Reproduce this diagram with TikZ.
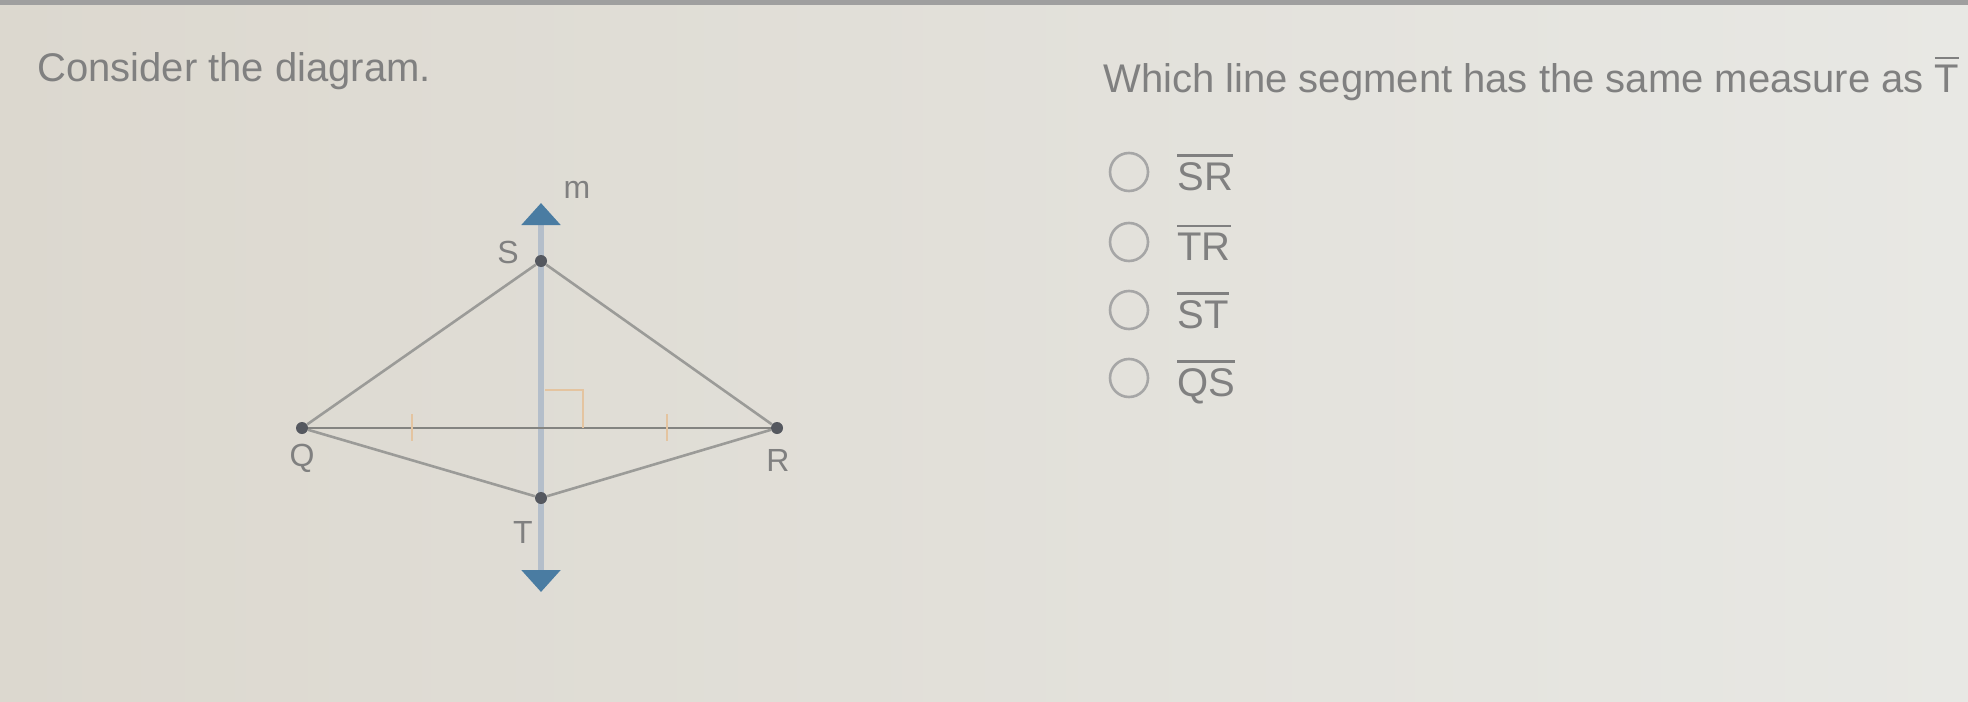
\documentclass[tikz,border=0pt]{standalone}
\usepackage{fontspec}
\setmainfont{Liberation Sans}
\usetikzlibrary{arrows.meta}
\definecolor{paperColor}{RGB}{232,232,228}
\definecolor{paperLeft}{RGB}{220,216,207}
\definecolor{inkColor}{RGB}{128,128,128}
\definecolor{segColor}{RGB}{155,155,152}
\definecolor{lineColor}{RGB}{180,190,202}
\definecolor{tipColor}{RGB}{74,124,162}
\definecolor{markColor}{RGB}{228,196,160}
\definecolor{dotColor}{RGB}{85,88,95}
\newcommand{\segbar}[1]{\vbox{\hrule height 1.3pt\kern 2.5pt\hbox{#1}}}

\begin{document}
\begin{tikzpicture}[x=0.5pt, y=-0.5pt,
    pt/.style={circle, fill=dotColor, inner sep=0pt, minimum size=6pt},
    lbl/.style={text=inkColor, font=\fontsize{16}{18}\selectfont},
    seg/.style={draw=segColor, line width=1.3pt},
    tick/.style={draw=markColor, line width=1.2pt},
    radio/.style={circle, draw=inkColor!70, line width=1.3pt, minimum size=19pt, inner sep=0pt},
    choice/.style={anchor=base west, text=inkColor, font=\fontsize{20}{24}\selectfont, inner sep=0pt},
    prompt/.style={anchor=base west, text=inkColor, font=\fontsize{20}{24}\selectfont, inner sep=0pt}]
    % Background
    \shade[left color=paperLeft, right color=paperColor] (0,0) rectangle (1968,701);
    \useasboundingbox (0,0) rectangle (1968,701);
    \fill[gray!75] (0,0) rectangle (1968,5);

    % Question texts
    \node[prompt] (consider) at (37,82) {Consider the diagram.};
    \node[prompt] (question) at (1103,92) {Which line segment has the same measure as \segbar{T}};

    % Line m
    \coordinate (mtop) at (541,203);
    \coordinate (mbot) at (541,592);
    \coordinate (foot) at (541,428);
    \draw[draw=lineColor, line width=3pt, {Triangle[width=19pt, length=11pt, color=tipColor]}-{Triangle[width=19pt, length=11pt, color=tipColor]}] (mbot) -- (mtop);

    % Points
    \node[pt] (S) at (541,261) {};
    \node[pt] (Q) at (302,428) {};
    \node[pt] (R) at (777,428) {};
    \node[pt] (T) at (541,498) {};

    \draw[seg] (Q) -- (S);
    \draw[seg] (S) -- (R);
    \draw[seg] (Q) -- (T);
    \draw[seg] (T) -- (R);
    \draw[seg, draw=segColor!85!black] (Q) -- (R);

    % Marks
    \draw[tick] ([shift={(4,-38)}]foot) -- ([shift={(42,-38)}]foot) -- ([shift={(42,0)}]foot);
    \draw[tick] (412,414) -- (412,441);
    \draw[tick] (667,414) -- (667,441);

    \node[lbl] (labS) at (508,252) {S};
    \node[lbl] (labQ) at (302,458) {Q};
    \node[lbl] (labT) at (523,532) {T};
    \node[lbl] (labR) at (778,460) {R};
    \node[lbl] (labm) at (577,190) {m};

    % Answer choices
    \foreach \y/\seg in {172/SR, 242/TR, 310/ST, 378/QS} {
        \node[radio] (radio\seg) at (1129,\y) {};
        \node[choice] (choice\seg) at (1177,\y+18) {\segbar{\seg}};
    }
\end{tikzpicture}
\end{document}
